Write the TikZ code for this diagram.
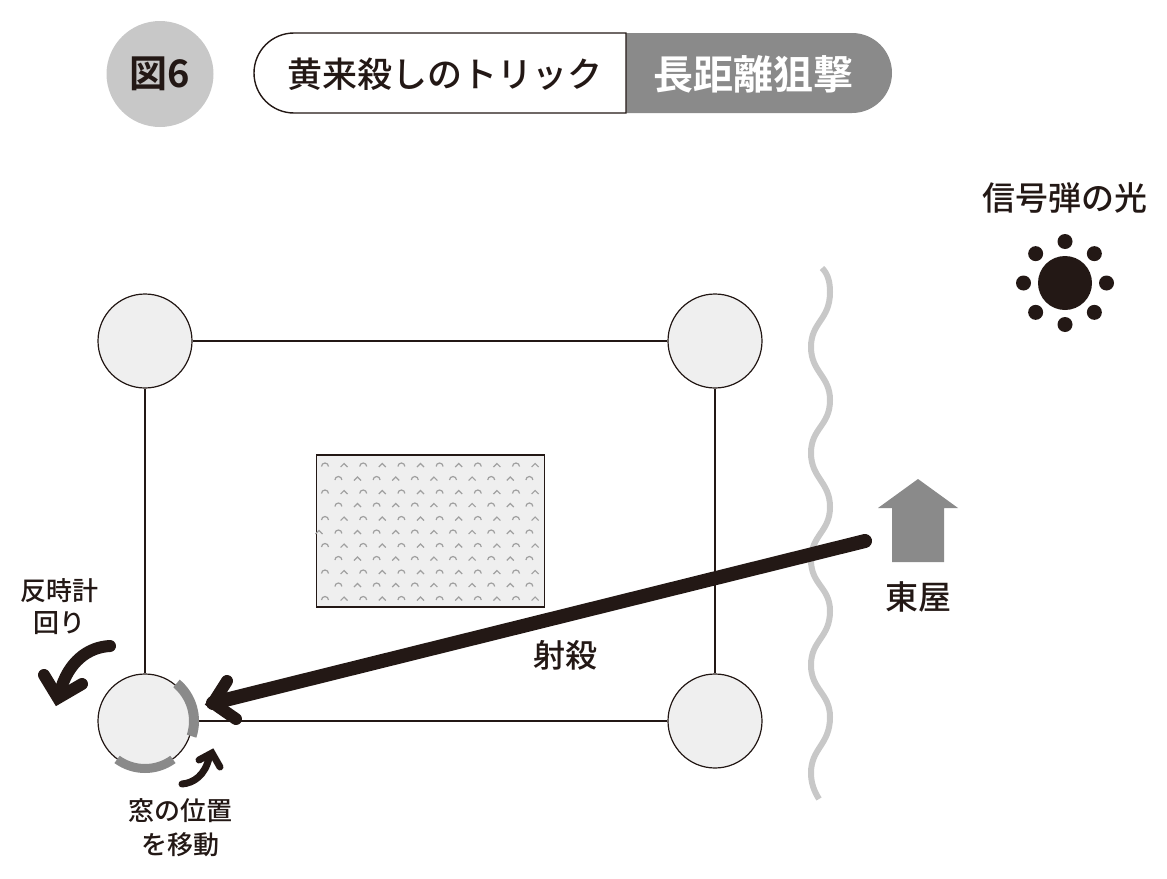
\documentclass[tikz,border=0pt]{standalone}
\usepackage{fontspec}
\setmainfont{Noto Sans CJK JP Medium}[BoldFont={Noto Sans CJK JP Bold}]
\usetikzlibrary{calc,shapes.geometric}
\definecolor{ink}{HTML}{231815}
\definecolor{gmid}{HTML}{8A8A8A}
\definecolor{glt}{HTML}{C8C8C8}
\definecolor{pale}{HTML}{EFEFEF}
\definecolor{pat}{HTML}{A0A0A0}
\newcommand{\fs}[1]{\fontsize{#1}{#1}\selectfont}
\newcommand{\patarc}[2]{\draw[pat,line width=1.2pt] (#1-3.5,#2+1.5) arc[start angle=180,end angle=360,radius=3.5];}
\newcommand{\patcar}[2]{\draw[pat,line width=1.2pt] (#1-3.5,#2+2) -- (#1,#2-1.5) -- (#1+3.5,#2+2);}
\tikzset{
  corner/.style={circle,draw=ink,fill=pale,line width=1.2pt,minimum size=94pt,inner sep=0pt},
  wall/.style={draw=ink,line width=1.1pt},
  lbl/.style={text=ink,inner sep=0pt,align=center},
  shot/.style={draw=ink,line cap=round},
  barb/.style={draw=ink,line cap=round,line join=miter,miter limit=10},
  dot/.style={circle,fill=ink,inner sep=0pt,minimum size=15pt},
  x=1pt,y=-1pt
}
\begin{document}
\begin{tikzpicture}
\useasboundingbox (0,0) rectangle (1167,878);
% header
\node[ellipse,fill=glt,minimum width=107pt,minimum height=106pt,inner sep=0pt] (badge) at (160,74) {};
\node[lbl,font=\fs{38}\bfseries] (badget) at (160,74) {図6};
\fill[gmid] (626,33) -- (852,33) arc[start angle=-90,end angle=90,radius=40] -- (626,113) -- cycle;
\draw[ink,line width=1.4pt,fill=white] (626,33) -- (294,33) arc[start angle=-90,end angle=-270,radius=40] -- (626,113) -- cycle;
\node[lbl,font=\fs{35}] (title) at (445,74) {黄来殺しのトリック};
\node[lbl,font=\fs{40}\bfseries,text=white] (sub) at (753,74) {長距離狙撃};
% wave
\draw[glt,line width=6pt] (822,268) .. controls (828,274) and (830,282) .. (830,292)
  .. controls (830,320) and (811,322) .. (811,347)
  .. controls (811,372) and (830,376) .. (830,400)
  .. controls (830,426) and (811,428) .. (811,453)
  .. controls (811,478) and (830,482) .. (830,507)
  .. controls (830,532) and (811,535) .. (811,560)
  .. controls (811,585) and (830,587) .. (830,611)
  .. controls (830,638) and (811,640) .. (811,665)
  .. controls (811,690) and (830,693) .. (830,717)
  .. controls (830,745) and (811,748) .. (811,773)
  .. controls (811,783) and (814,791) .. (819,799);
% walls
\node[corner] (tl) at (145,341) {};
\node[corner] (tr) at (715,341) {};
\node[corner] (bl) at (145,721) {};
\node[corner] (br) at (715,721) {};
\draw[wall] (tl) -- (tr);
\draw[wall] (tr) -- (br);
\draw[wall] (br) -- (bl);
\draw[wall] (bl) -- (tl);
% mat
\node[rectangle,draw=ink,fill=pale,line width=1.2pt,minimum width=228pt,minimum height=152pt,inner sep=0pt] (mat) at (430.5,531) {};
\foreach \y in {465,492,518.5,545.5,572,598.5}{
  \foreach \i in {0,...,5}{
    \patarc{325+38.2*\i}{\y}
    \patcar{344.1+38.2*\i}{\y}
  }
}
\foreach \y in {478.5,505,532,558.5,585}{
  \foreach \i in {0,...,5}{
    \patarc{338.4+38.2*\i}{\y}
  }
  \foreach \i in {0,...,4}{
    \patcar{357.5+38.2*\i}{\y}
  }
}
\patcar{319}{532}
% windows: filled annular sectors, page angles in pixel space
\fill[gmid] ($(bl)+(-50:44)$) -- ($(bl)+(-50:54)$) arc[start angle=-50,end angle=18,radius=54] -- ($(bl)+(18:44)$) arc[start angle=18,end angle=-50,radius=44] -- cycle;
\fill[gmid] ($(bl)+(54:43)$) -- ($(bl)+(54:52)$) arc[start angle=54,end angle=126,radius=52] -- ($(bl)+(126:43)$) arc[start angle=126,end angle=54,radius=43] -- cycle;
% main shot
\coordinate (shotend) at (865,541);
\coordinate (shottip) at (213,703);
\draw[shot,line width=14pt] (shotend) -- (shottip);
\draw[barb,line width=12pt] (227,681) -- (shottip) -- (236,719);
\node[lbl,font=\fs{32}] (shotl) at (565,655) {射殺};
% house
\path[fill=gmid] (918,479) -- (958,508) -- (944,508) -- (944,562) -- (892,562) -- (892,508) -- (878,508) -- cycle;
\node[lbl,font=\fs{33}] (house) at (918,597) {東屋};
% flare
\node[lbl,font=\fs{33}] (flare) at (1065,198) {信号弾の光};
\node[circle,fill=ink,inner sep=0pt,minimum size=54pt] (sun) at (1065,283) {};
\foreach \a in {0,45,...,315}{ \node[dot] at ($(sun)+(\a:41.5)$) {}; }
% left turn
\draw[shot,line width=12pt] (110,646) .. controls (88,647) and (68,662) .. (60,692);
\draw[barb,line width=12pt] (44,675) -- (58,698) -- (82,684);
\node[lbl,font=\fs{26}] (ccw) at (59,591) {反時計};
\node[lbl,font=\fs{26}] (ccw2) at (59,623) {回り};
% small turn
\draw[shot,line width=7pt] (182,784) .. controls (194,783) and (205,775) .. (209,758);
\draw[barb,line width=7pt] (199,760) -- (212,753) -- (220,767);
\node[lbl,font=\fs{26}] (mv) at (180,811) {窓の位置};
\node[lbl,font=\fs{26}] (mv2) at (180,845) {を移動};
\end{tikzpicture}
\end{document}
